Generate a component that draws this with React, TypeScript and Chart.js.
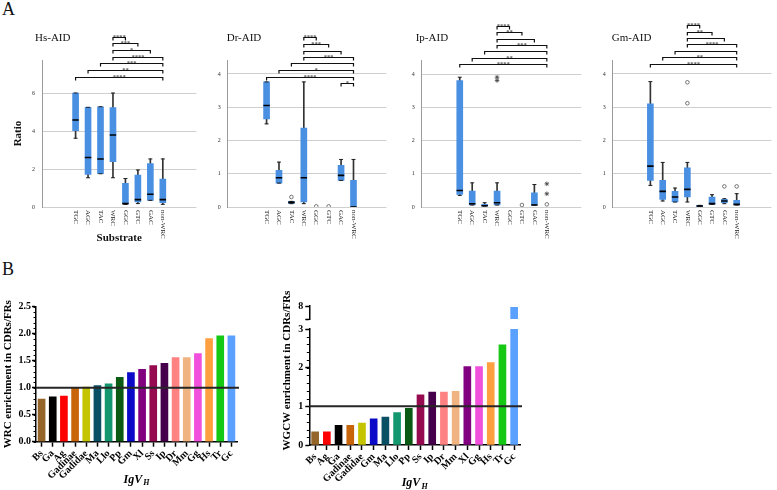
import React, { useEffect, useRef } from 'react';
import { Chart, registerables } from 'chart.js';
Chart.register(...registerables);

const SERIF = '"Liberation Serif", "Times New Roman", serif';
Chart.defaults.font.family = SERIF;
Chart.defaults.color = '#000';

// ---------------- Panel A data ----------------
const substrates = ['TGC', 'AGC', 'TAC', 'WRC', 'GGC', 'GTC', 'GAC', 'non-WRC'];

const hsMin = [3.62, 1.54, 1.75, 1.54, 0.14, 0.18, 0.35, 0.14];
const hsQ1 = [4.02, 1.72, 1.75, 2.39, 0.18, 0.27, 0.35, 0.23];
const hsMed = [4.58, 2.61, 2.53, 3.79, 0.18, 0.39, 0.67, 0.39];
const hsQ3 = [6.0, 5.25, 5.28, 5.23, 1.24, 1.68, 2.28, 1.47];
const hsMax = [6.0, 5.25, 5.28, 6.0, 1.5, 1.95, 2.53, 2.53];
const hsCircleCats: string[] = [];
const hsCircleVals: number[] = [];
const hsStarCats: string[] = [];
const hsStarVals: number[] = [];
const hsBrackets: [string, string, number, string][] = [
  ['WRC', 'GGC', 8.95, '****'],
  ['WRC', 'GTC', 8.63, '***'],
  ['WRC', 'GAC', 8.26, '*'],
  ['WRC', 'non-WRC', 7.89, '****'],
  ['TAC', 'non-WRC', 7.58, '***'],
  ['AGC', 'non-WRC', 7.21, '**'],
  ['TGC', 'non-WRC', 6.84, '****'],
];

const drMin = [2.5, 0.72, 0.1, 0.1, null, null, 0.8, 0.0];
const drQ1 = [2.65, 0.72, 0.11, 0.15, null, null, 0.8, 0.0];
const drMed = [3.05, 0.88, 0.14, 0.88, null, null, 0.95, 0.0];
const drQ3 = [3.76, 1.1, 0.17, 2.37, null, null, 1.25, 0.8];
const drMax = [3.76, 1.35, 0.17, 3.76, null, null, 1.43, 1.43];
const drCircleCats = ['TAC', 'GGC', 'GTC'];
const drCircleVals = [0.3, 0.02, 0.02];
const drStarCats: string[] = [];
const drStarVals: number[] = [];
const drBrackets: [string, string, number, string][] = [
  ['WRC', 'GGC', 5.12, '****'],
  ['WRC', 'GTC', 4.9, '***'],
  ['WRC', 'GAC', 4.7, ''],
  ['WRC', 'non-WRC', 4.5, '***'],
  ['TAC', 'non-WRC', 4.32, ''],
  ['AGC', 'non-WRC', 4.12, '*'],
  ['TGC', 'non-WRC', 3.9, '****'],
  ['GAC', 'non-WRC', 3.73, '*'],
];

const ipMin = [0.35, 0.06, 0.03, 0.06, null, null, 0.06, null];
const ipQ1 = [0.38, 0.06, 0.03, 0.06, null, null, 0.06, null];
const ipMed = [0.5, 0.1, 0.04, 0.13, null, null, 0.06, null];
const ipQ3 = [3.82, 0.48, 0.08, 0.48, null, null, 0.43, null];
const ipMax = [3.92, 0.73, 0.13, 0.73, null, null, 0.68, null];
const ipCircleCats = ['GTC', 'non-WRC'];
const ipCircleVals = [0.06, 0.08];
const ipStarCats = ['WRC', 'WRC', 'non-WRC', 'non-WRC'];
const ipStarVals = [3.92, 3.82, 0.7, 0.4];
const ipBrackets: [string, string, number, string][] = [
  ['WRC', 'GGC', 5.48, '****'],
  ['WRC', 'GTC', 5.28, '**'],
  ['WRC', 'GAC', 5.08, ''],
  ['WRC', 'non-WRC', 4.9, '***'],
  ['TAC', 'non-WRC', 4.71, ''],
  ['AGC', 'non-WRC', 4.5, '**'],
  ['TGC', 'non-WRC', 4.32, '****'],
];

const gmMin = [0.65, 0.18, 0.15, 0.15, 0.01, 0.08, 0.1, 0.06];
const gmQ1 = [0.8, 0.23, 0.15, 0.3, 0.01, 0.08, 0.13, 0.06];
const gmMed = [1.23, 0.47, 0.3, 0.53, 0.03, 0.1, 0.18, 0.08];
const gmQ3 = [3.1, 0.8, 0.47, 1.18, 0.05, 0.3, 0.23, 0.2];
const gmMax = [3.77, 1.34, 0.57, 1.34, 0.05, 0.37, 0.25, 0.4];
const gmCircleCats = ['WRC', 'WRC', 'GAC', 'non-WRC'];
const gmCircleVals = [3.75, 3.12, 0.62, 0.62];
const gmStarCats: string[] = [];
const gmStarVals: number[] = [];
const gmBrackets: [string, string, number, string][] = [
  ['WRC', 'GGC', 5.47, '****'],
  ['WRC', 'GTC', 5.27, '**'],
  ['WRC', 'GAC', 5.07, ''],
  ['WRC', 'non-WRC', 4.89, '****'],
  ['TAC', 'non-WRC', 4.7, ''],
  ['AGC', 'non-WRC', 4.5, '**'],
  ['TGC', 'non-WRC', 4.3, '****'],
];

// ---------------- Panel B data ----------------
const wrcSpecies = ['Bs', 'Ga', 'Ag', 'Gadinae', 'Gadidae', 'Ma', 'Llo', 'Pp', 'Gm', 'Xl', 'Ss', 'Ip', 'Dr', 'Mm', 'Gg', 'Hs', 'Tr', 'Gc'];
const wrcValues = [0.79, 0.83, 0.845, 1.0, 1.01, 1.04, 1.07, 1.19, 1.28, 1.34, 1.41, 1.45, 1.56, 1.56, 1.63, 1.91, 1.96, 1.96];

const wgcwSpecies = ['Bs', 'Ag', 'Ga', 'Gadinae', 'Gadidae', 'Gm', 'Ma', 'Llo', 'Pp', 'Ss', 'Ip', 'Dr', 'Mm', 'Xl', 'Gg', 'Hs', 'Tr', 'Gc'];
const wgcwValues = [0.34, 0.34, 0.51, 0.51, 0.57, 0.68, 0.72, 0.84, 0.95, 1.3, 1.37, 1.37, 1.39, 2.03, 2.03, 2.13, 2.59, 7.96];

const referenceLevel = 1;

const speciesColors: Record<string, string> = {
  Bs: '#946428', Ga: '#000000', Ag: '#FF0000', Gadinae: '#C8640A', Gadidae: '#C4C400',
  Ma: '#0A5064', Llo: '#14966E', Pp: '#0A5A14', Gm: '#0A0AC8', Xl: '#800080',
  Ss: '#960A50', Ip: '#46004B', Dr: '#FF8282', Mm: '#F0B482', Gg: '#F050DC',
  Hs: '#FFA040', Tr: '#14C814', Gc: '#5AA0FF',
};

const BOX_BLUE = '#4A90E2';

// ---------------- plugins ----------------
const boxDecor = {
  id: 'boxDecor',
  afterDraw(chart: any, _a: any, o: any) {
    const { ctx, chartArea, scales } = chart;
    const x = scales.x, y = scales.y;
    ctx.save();
    ctx.fillStyle = '#111';
    ctx.font = `11px ${SERIF}`;
    ctx.textAlign = 'left';
    ctx.textBaseline = 'middle';
    ctx.fillText(o.title, chartArea.left + o.titleDx, o.titleY);

    ctx.strokeStyle = '#111';
    ctx.lineWidth = 1.2;
    ctx.font = `6.5px ${SERIF}`;
    ctx.textAlign = 'center';
    ctx.textBaseline = 'alphabetic';
    for (const [a, b, v, lab] of o.brackets) {
      const x1 = x.getPixelForValue(substrates.indexOf(a));
      const x2 = x.getPixelForValue(substrates.indexOf(b));
      const py = Math.round(y.getPixelForValue(v)) + 0.5;
      ctx.beginPath();
      ctx.moveTo(x1, py + 3);
      ctx.lineTo(x1, py);
      ctx.lineTo(x2, py);
      ctx.lineTo(x2, py + 3);
      ctx.stroke();
      if (lab) ctx.fillText(lab, (x1 + x2) / 2, py + 1.5);
    }

    ctx.font = `7px ${SERIF}`;
    ctx.fillStyle = '#222';
    ctx.textAlign = 'left';
    ctx.textBaseline = 'middle';
    substrates.forEach((s, i) => {
      ctx.save();
      ctx.translate(x.getPixelForValue(i), chartArea.bottom + 3);
      ctx.rotate(Math.PI / 2);
      ctx.fillText(s, 0, 0);
      ctx.restore();
    });
    if (o.substrate) {
      ctx.font = `bold 11px ${SERIF}`;
      ctx.fillStyle = '#111';
      ctx.textAlign = 'center';
      ctx.textBaseline = 'middle';
      ctx.fillText('Substrate', (chartArea.left + chartArea.right) / 2, chartArea.bottom + 31);
    }
    ctx.restore();
  },
};

const barDecor = {
  id: 'barDecor',
  afterDraw(chart: any, _a: any, o: any) {
    const { ctx, chartArea, scales } = chart;
    ctx.save();
    ctx.strokeStyle = '#000';
    ctx.lineWidth = 1;
    for (const m of o.minor) {
      const s = scales[m.id];
      const n = Math.round((s.max - s.min) / m.step);
      for (let k = 0; k <= n; k++) {
        const py = Math.round(s.getPixelForValue(s.min + k * m.step)) + 0.5;
        ctx.beginPath();
        ctx.moveTo(s.right - 2.5, py);
        ctx.lineTo(s.right, py);
        ctx.stroke();
      }
    }
    const y = scales.y;
    const py = y.getPixelForValue(o.refValue);
    ctx.strokeStyle = '#262626';
    ctx.lineWidth = 2;
    ctx.beginPath();
    ctx.moveTo(chartArea.left, py);
    ctx.lineTo(chartArea.right + 2, py);
    ctx.stroke();

    ctx.fillStyle = '#000';
    ctx.font = `bold 11px ${SERIF}`;
    ctx.textAlign = 'center';
    ctx.textBaseline = 'middle';
    ctx.save();
    ctx.translate(o.yTitleX, (chartArea.top + chartArea.bottom) / 2 + o.yTitleDy);
    ctx.rotate(-Math.PI / 2);
    ctx.fillText(o.yTitle, 0, 0);
    ctx.restore();

    const cx = (chartArea.left + chartArea.right) / 2;
    const cy = chartArea.bottom + 37;
    ctx.font = `italic bold 12px ${SERIF}`;
    const w1 = ctx.measureText('IgV').width;
    ctx.font = `italic bold 8px ${SERIF}`;
    const w2 = ctx.measureText('H').width;
    const x0 = cx - (w1 + w2 + 1) / 2;
    ctx.textAlign = 'left';
    ctx.textBaseline = 'alphabetic';
    ctx.font = `italic bold 12px ${SERIF}`;
    ctx.fillText('IgV', x0, cy + 4);
    ctx.font = `italic bold 8px ${SERIF}`;
    ctx.fillText('H', x0 + w1 + 1, cy + 6.5);
    ctx.restore();
  },
};

// ---------------- Panel A charts ----------------
const panelA = [
  { key: 'hs', title: 'Hs-AID', min: hsMin, q1: hsQ1, med: hsMed, q3: hsQ3, max: hsMax, cc: hsCircleCats, cv: hsCircleVals, sc: hsStarCats, sv: hsStarVals, brackets: hsBrackets,
    yMax: 7.74, yStep: 2, xMin: -0.63, xMax: 7.63, left: 0, width: 202, padLeft: 9.4, yWidth: 32.6, padRight: 2, titleDx: -7, ratio: true, substrate: true },
  { key: 'dr', title: 'Dr-AID', min: drMin, q1: drQ1, med: drMed, q3: drQ3, max: drMax, cc: drCircleCats, cv: drCircleVals, sc: drStarCats, sv: drStarVals, brackets: drBrackets,
    yMax: 4.42, yStep: 1, xMin: -1.0, xMax: 7.52, left: 202, width: 190, padLeft: 9.7, yWidth: 16, padRight: 2, titleDx: -1, ratio: false, substrate: false },
  { key: 'ip', title: 'Ip-AID', min: ipMin, q1: ipQ1, med: ipMed, q3: ipQ3, max: ipMax, cc: ipCircleCats, cv: ipCircleVals, sc: ipStarCats, sv: ipStarVals, brackets: ipBrackets,
    yMax: 4.44, yStep: 1, xMin: -0.92, xMax: 7.64, left: 392, width: 195, padLeft: 13.7, yWidth: 16, padRight: 2, titleDx: -6, ratio: false, substrate: false },
  { key: 'gm', title: 'Gm-AID', min: gmMin, q1: gmQ1, med: gmMed, q3: gmQ3, max: gmMax, cc: gmCircleCats, cv: gmCircleVals, sc: gmStarCats, sv: gmStarVals, brackets: gmBrackets,
    yMax: 4.42, yStep: 1, xMin: -0.91, xMax: 7.67, left: 587, width: 190, padLeft: 9.7, yWidth: 16, padRight: 1, titleDx: -1, ratio: false, substrate: false },
];

function BoxChart({ cfg }: { cfg: any }) {
  const ref = useRef<HTMLCanvasElement>(null);
  useEffect(() => {
    const pts = (arr: any[]) => substrates.map((_, i) => (arr[i] == null ? null : { x: i, y: arr[i] })).filter(Boolean);
    const rng = (lo: any[], hi: any[]) => substrates.map((_, i) => (lo[i] == null ? null : { x: i, y: [lo[i], hi[i]] })).filter(Boolean);
    const marks = (cats: string[], vals: number[]) => cats.map((c, k) => ({ x: substrates.indexOf(c), y: vals[k] }));
    const chart = new Chart(ref.current as HTMLCanvasElement, {
      type: 'bar',
      data: {
        datasets: [
          { type: 'bar', data: rng(cfg.min, cfg.max), backgroundColor: '#333', barThickness: 1, grouped: false, order: 5 },
          { type: 'bar', data: rng(cfg.q1, cfg.q3), backgroundColor: BOX_BLUE, barThickness: 6, grouped: false, order: 4 },
          { type: 'line', data: [...pts(cfg.min), ...pts(cfg.max)], showLine: false, pointStyle: 'line', pointRadius: 2, pointBorderWidth: 1, pointBorderColor: '#222', order: 3 },
          { type: 'line', data: pts(cfg.med), showLine: false, pointStyle: 'line', pointRadius: 3.2, pointBorderWidth: 1.6, pointBorderColor: '#000', order: 2 },
          { type: 'line', data: marks(cfg.cc, cfg.cv), showLine: false, pointStyle: 'circle', pointRadius: 1.8, pointBackgroundColor: '#fff', pointBorderColor: '#555', pointBorderWidth: 0.8, order: 1 },
          { type: 'line', data: marks(cfg.sc, cfg.sv), showLine: false, pointStyle: 'star', pointRadius: 2.3, pointBorderColor: '#444', pointBorderWidth: 0.8, order: 0 },
        ] as any,
      },
      options: {
        responsive: false,
        animation: false,
        events: [],
        layout: { padding: { top: 60, bottom: 39, left: cfg.padLeft, right: cfg.padRight } },
        plugins: {
          legend: { display: false },
          tooltip: { enabled: false },
          boxDecor: { title: cfg.title, titleDx: cfg.titleDx, titleY: 38, brackets: cfg.brackets, substrate: cfg.substrate },
        } as any,
        scales: {
          x: { type: 'linear', display: false, min: cfg.xMin, max: cfg.xMax },
          y: {
            type: 'linear', min: 0, max: cfg.yMax,
            ticks: { stepSize: cfg.yStep, includeBounds: false, autoSkip: false, font: { size: 6 }, color: '#333', padding: 7 },
            grid: { color: '#CFCFCF', drawTicks: false },
            border: { color: '#9a9a9a' },
            title: { display: cfg.ratio, text: 'Ratio', font: { size: 11, weight: 'bold' }, color: '#111', padding: { top: 2, bottom: 0 } },
            afterFit: (s: any) => { s.width = cfg.yWidth; },
          },
        } as any,
      },
      plugins: [boxDecor],
    });
    return () => chart.destroy();
  }, []);
  return <canvas ref={ref} width={cfg.width} height={246} style={{ position: 'absolute', left: cfg.left, top: 0 }} />;
}

// ---------------- Panel B charts ----------------
const xAxisB = (height: number) => ({
  type: 'category',
  offset: true,
  grid: { offset: false, drawOnChartArea: false, drawTicks: true, tickLength: 5, tickColor: '#000', tickWidth: 1.5 },
  border: { color: '#000', width: 1.5 },
  ticks: { autoSkip: false, minRotation: 45, maxRotation: 45, padding: 1, font: { size: 10, weight: 'bold' }, color: '#000' },
  afterFit: (s: any) => { s.height = height; },
});

function WrcChart() {
  const ref = useRef<HTMLCanvasElement>(null);
  useEffect(() => {
    const chart = new Chart(ref.current as HTMLCanvasElement, {
      type: 'bar',
      data: {
        labels: wrcSpecies,
        datasets: [{ data: wrcValues, backgroundColor: wrcSpecies.map((s) => speciesColors[s]), barThickness: 7 }],
      },
      options: {
        responsive: false,
        animation: false,
        events: [],
        layout: { padding: { top: 56.7, right: 13, left: 0, bottom: 0 } },
        plugins: {
          legend: { display: false },
          tooltip: { enabled: false },
          barDecor: { minor: [{ id: 'y', step: 0.1 }], refValue: referenceLevel, yTitle: 'WRC enrichment in CDRs/FRs', yTitleX: 8, yTitleDy: 0 },
        } as any,
        scales: {
          x: xAxisB(48.3),
          y: {
            type: 'linear', min: 0, max: 2.5,
            ticks: { stepSize: 0.5, autoSkip: false, callback: (v: any) => Number(v).toFixed(1), font: { size: 10, weight: 'bold' }, color: '#000', padding: 1 },
            grid: { drawOnChartArea: false, tickLength: 4, tickColor: '#000', tickWidth: 1.5 },
            border: { color: '#000', width: 1.5 },
            afterFit: (s: any) => { s.width = 36; },
          },
        } as any,
      },
      plugins: [barDecor],
    });
    return () => chart.destroy();
  }, []);
  return <canvas ref={ref} width={250} height={240} style={{ position: 'absolute', left: 0, top: 250 }} />;
}

function WgcwChart() {
  const ref = useRef<HTMLCanvasElement>(null);
  useEffect(() => {
    const colors = wgcwSpecies.map((s) => speciesColors[s]);
    const yCommon = {
      grid: { drawOnChartArea: false, tickLength: 4, tickColor: '#000', tickWidth: 1.5 },
      border: { color: '#000', width: 1.5 },
      afterFit: (s: any) => { s.width = 54.3; },
    };
    const chart = new Chart(ref.current as HTMLCanvasElement, {
      type: 'bar',
      data: {
        labels: wgcwSpecies,
        datasets: [
          { data: wgcwValues, yAxisID: 'y', backgroundColor: colors, barThickness: 7, grouped: false, clip: 0 },
          { data: wgcwValues, yAxisID: 'y2', backgroundColor: colors, barThickness: 7, grouped: false, clip: 0 },
        ] as any,
      },
      options: {
        responsive: false,
        animation: false,
        events: [],
        layout: { padding: { top: 56, right: 20, left: 0, bottom: 0 } },
        plugins: {
          legend: { display: false },
          tooltip: { enabled: false },
          barDecor: { minor: [{ id: 'y', step: 0.2 }], refValue: referenceLevel, yTitle: 'WGCW enrichment in CDRs/FRs', yTitleX: 32, yTitleDy: -5 },
        } as any,
        scales: {
          x: xAxisB(45),
          y: {
            ...yCommon, type: 'linear', position: 'left', stack: 'w', stackWeight: 116, min: 0, max: 3,
            ticks: { stepSize: 1, autoSkip: false, font: { size: 10, weight: 'bold' }, color: '#000', padding: 2 },
          },
          ygap: {
            type: 'linear', position: 'left', stack: 'w', stackWeight: 10,
            grid: { display: false }, border: { display: false }, ticks: { display: false },
            afterFit: (s: any) => { s.width = 54.3; },
          },
          y2: {
            ...yCommon, type: 'linear', position: 'left', stack: 'w', stackWeight: 13, min: 7.6, max: 8,
            ticks: { stepSize: 0.4, autoSkip: false, callback: (v: any) => (Math.abs(Number(v) - 8) < 0.01 ? '8' : ''), font: { size: 10, weight: 'bold' }, color: '#000', padding: 2 },
          },
        } as any,
      },
      plugins: [barDecor],
    });
    return () => chart.destroy();
  }, []);
  return <canvas ref={ref} width={285} height={240} style={{ position: 'absolute', left: 255, top: 250 }} />;
}

export default function App() {
  return (
    <div style={{ position: 'fixed', left: 0, top: 0, width: 777, height: 490, background: '#fff', overflow: 'hidden', fontFamily: SERIF }}>
      <div style={{ position: 'absolute', left: 2, top: 0, fontSize: 18, lineHeight: '18px', color: '#111' }}>A</div>
      <div style={{ position: 'absolute', left: 2, top: 260, fontSize: 18, lineHeight: '18px', color: '#111' }}>B</div>
      {panelA.map((cfg) => (
        <BoxChart key={cfg.key} cfg={cfg} />
      ))}
      <WrcChart />
      <WgcwChart />
    </div>
  );
}
